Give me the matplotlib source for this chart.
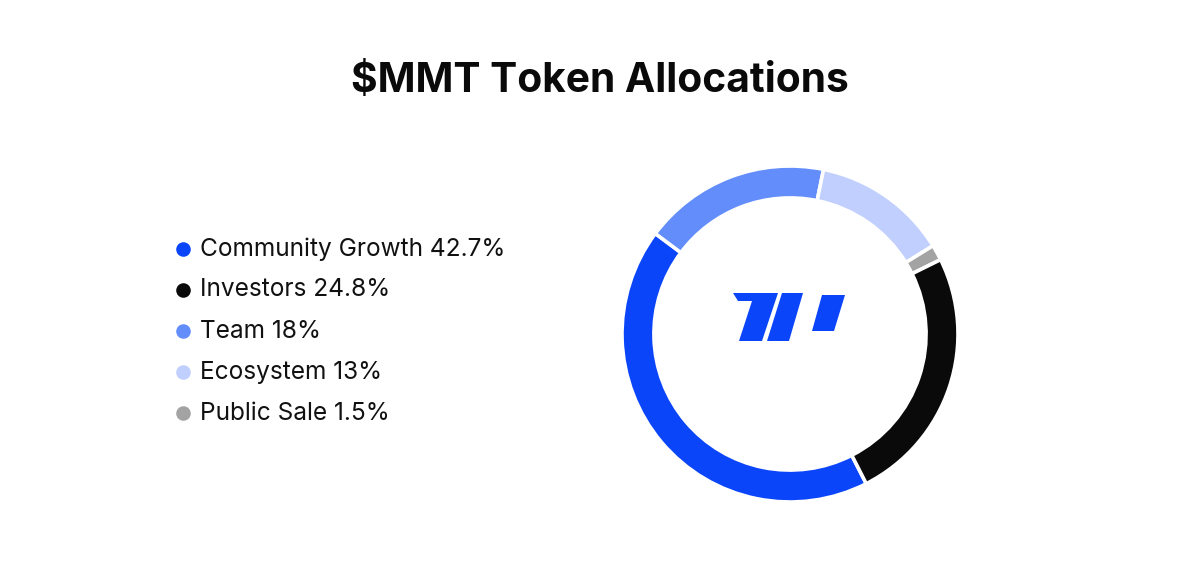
import matplotlib
matplotlib.use("Agg")
import matplotlib.pyplot as plt
from matplotlib.patches import Polygon

categories = ["Community Growth", "Investors", "Team", "Ecosystem", "Public Sale"]
values = [42.7, 24.8, 18, 13, 1.5]
colors = ["#0A45FA", "#0A0A0A", "#628DFB", "#C0CFFD", "#A3A3A3"]
title = "$MMT Token Allocations"

# pie draw order (clockwise from start angle)
pie_order = [0, 2, 3, 4, 1]

W, H = 1200, 571
fig = plt.figure(figsize=(W / 100, H / 100), dpi=100)
fig.patch.set_facecolor("white")

# overlay axes in pixel coords for text/legend/logo
ov = fig.add_axes([0, 0, 1, 1])
ov.set_xlim(0, W)
ov.set_ylim(H, 0)
ov.axis("off")

ov.text(600, 81, title, ha="center", va="center", fontsize=29.3,
        fontweight="bold", family=["Inter", "DejaVu Sans"], color="#0a0a0a")

for i, (cat, val, col) in enumerate(zip(categories, values, colors)):
    y = 249 + i * 41
    ov.scatter([183], [y], s=110, color=col, zorder=3, linewidths=0)
    ov.text(200, y, f"{cat} {val:g}%", ha="left", va="center", fontsize=17.6,
            family=["Inter", "DejaVu Sans"], color="#111111")

# donut
cx, cy, R = 790, 334, 168
ax = fig.add_axes([(cx - R) / W, (H - cy - R) / H, 2 * R / W, 2 * R / H])
ax.pie([values[k] for k in pie_order], colors=[colors[k] for k in pie_order],
       startangle=-63, counterclock=False, radius=1.0,
       wedgeprops=dict(width=0.19, edgecolor="white", linewidth=2.6))
ax.set_xlim(-1.0, 1.0)
ax.set_ylim(-1.0, 1.0)
ax.set_aspect("equal")
ax.axis("off")

# logo
logo_blue = "#0A45FA"
shapes = [
    [(733, 293), (778, 293), (762, 341), (739, 341), (752, 301), (738, 301)],
    [(782, 293), (803, 293), (789, 341), (767, 341)],
    [(822, 295), (845, 295), (834, 331), (812, 331)],
]
for pts in shapes:
    ov.add_patch(Polygon(pts, closed=True, color=logo_blue, lw=0))

fig.savefig("out.png", dpi=100, facecolor="white")
